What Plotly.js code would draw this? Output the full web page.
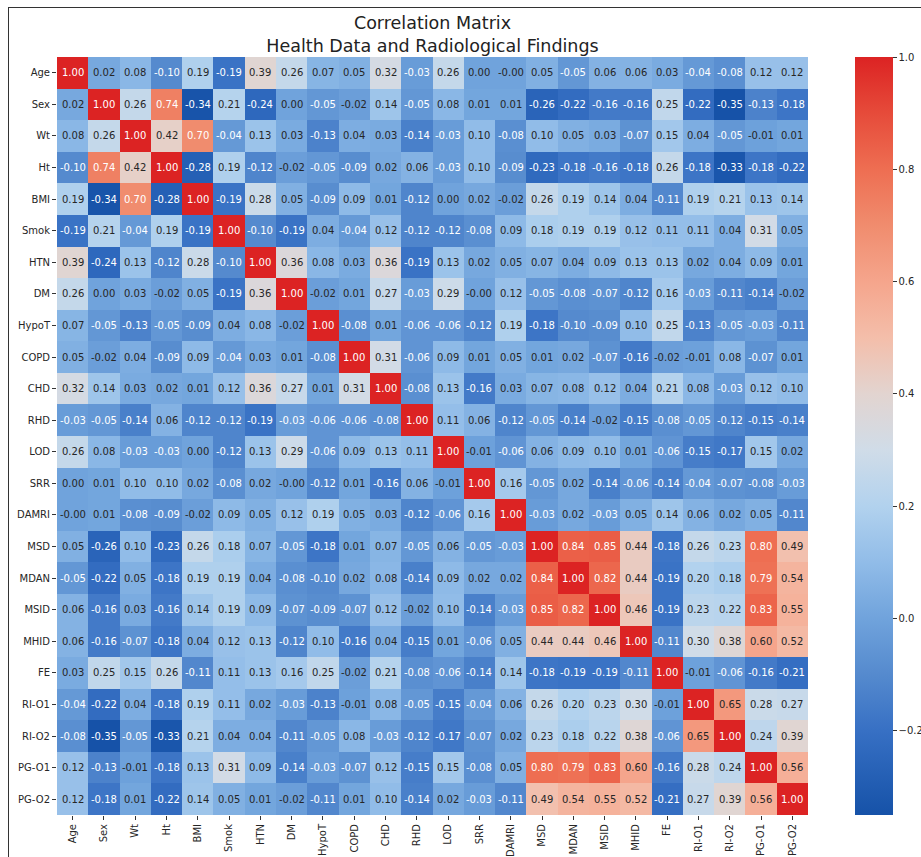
<!DOCTYPE html>
<html>
<head>
<meta charset="utf-8">
<script src="https://cdn.plot.ly/plotly-3.0.1.min.js"></script>
<style>
  html, body { margin: 0; padding: 0; background: #ffffff; }
  #chart { position: absolute; left: 0; top: 0; width: 921px; height: 857px; }
  #frame { position: absolute; left: 8px; top: 7px; width: 913px; height: 850px;
           border-left: 1.5px solid #333; border-top: 1.5px solid #333;
           pointer-events: none; box-sizing: border-box; }
</style>
</head>
<body>
<div id="chart"></div>
<div id="frame"></div>
<script>
// Variable names (rows top-to-bottom, columns left-to-right)
const labels = ["Age","Sex","Wt","Ht","BMI","Smok","HTN","DM","HypoT","COPD","CHD","RHD",
                "LOD","SRR","DAMRI","MSD","MDAN","MSID","MHID","FE","RI-O1","RI-O2","PG-O1","PG-O2"];

// Correlation rows (-0.001 marks cells printed as "-0.00")
const rowAge   = [1.00, 0.02, 0.08,-0.10, 0.19,-0.19, 0.39, 0.26, 0.07, 0.05, 0.32,-0.03, 0.26, 0.00,-0.001, 0.05,-0.05, 0.06, 0.06, 0.03,-0.04,-0.08, 0.12, 0.12];
const rowSex   = [0.02, 1.00, 0.26, 0.74,-0.34, 0.21,-0.24, 0.00,-0.05,-0.02, 0.14,-0.05, 0.08, 0.01, 0.01,-0.26,-0.22,-0.16,-0.16, 0.25,-0.22,-0.35,-0.13,-0.18];
const rowWt    = [0.08, 0.26, 1.00, 0.42, 0.70,-0.04, 0.13, 0.03,-0.13, 0.04, 0.03,-0.14,-0.03, 0.10,-0.08, 0.10, 0.05, 0.03,-0.07, 0.15, 0.04,-0.05,-0.01, 0.01];
const rowHt    = [-0.10, 0.74, 0.42, 1.00,-0.28, 0.19,-0.12,-0.02,-0.05,-0.09, 0.02, 0.06,-0.03, 0.10,-0.09,-0.23,-0.18,-0.16,-0.18, 0.26,-0.18,-0.33,-0.18,-0.22];
const rowBMI   = [0.19,-0.34, 0.70,-0.28, 1.00,-0.19, 0.28, 0.05,-0.09, 0.09, 0.01,-0.12, 0.00, 0.02,-0.02, 0.26, 0.19, 0.14, 0.04,-0.11, 0.19, 0.21, 0.13, 0.14];
const rowSmok  = [-0.19, 0.21,-0.04, 0.19,-0.19, 1.00,-0.10,-0.19, 0.04,-0.04, 0.12,-0.12,-0.12,-0.08, 0.09, 0.18, 0.19, 0.19, 0.12, 0.11, 0.11, 0.04, 0.31, 0.05];
const rowHTN   = [0.39,-0.24, 0.13,-0.12, 0.28,-0.10, 1.00, 0.36, 0.08, 0.03, 0.36,-0.19, 0.13, 0.02, 0.05, 0.07, 0.04, 0.09, 0.13, 0.13, 0.02, 0.04, 0.09, 0.01];
const rowDM    = [0.26, 0.00, 0.03,-0.02, 0.05,-0.19, 0.36, 1.00,-0.02, 0.01, 0.27,-0.03, 0.29,-0.001, 0.12,-0.05,-0.08,-0.07,-0.12, 0.16,-0.03,-0.11,-0.14,-0.02];
const rowHypoT = [0.07,-0.05,-0.13,-0.05,-0.09, 0.04, 0.08,-0.02, 1.00,-0.08, 0.01,-0.06,-0.06,-0.12, 0.19,-0.18,-0.10,-0.09, 0.10, 0.25,-0.13,-0.05,-0.03,-0.11];
const rowCOPD  = [0.05,-0.02, 0.04,-0.09, 0.09,-0.04, 0.03, 0.01,-0.08, 1.00, 0.31,-0.06, 0.09, 0.01, 0.05, 0.01, 0.02,-0.07,-0.16,-0.02,-0.01, 0.08,-0.07, 0.01];
const rowCHD   = [0.32, 0.14, 0.03, 0.02, 0.01, 0.12, 0.36, 0.27, 0.01, 0.31, 1.00,-0.08, 0.13,-0.16, 0.03, 0.07, 0.08, 0.12, 0.04, 0.21, 0.08,-0.03, 0.12, 0.10];
const rowRHD   = [-0.03,-0.05,-0.14, 0.06,-0.12,-0.12,-0.19,-0.03,-0.06,-0.06,-0.08, 1.00, 0.11, 0.06,-0.12,-0.05,-0.14,-0.02,-0.15,-0.08,-0.05,-0.12,-0.15,-0.14];
const rowLOD   = [0.26, 0.08,-0.03,-0.03, 0.00,-0.12, 0.13, 0.29,-0.06, 0.09, 0.13, 0.11, 1.00,-0.01,-0.06, 0.06, 0.09, 0.10, 0.01,-0.06,-0.15,-0.17, 0.15, 0.02];
const rowSRR   = [0.00, 0.01, 0.10, 0.10, 0.02,-0.08, 0.02,-0.001,-0.12, 0.01,-0.16, 0.06,-0.01, 1.00, 0.16,-0.05, 0.02,-0.14,-0.06,-0.14,-0.04,-0.07,-0.08,-0.03];
const rowDAMRI = [-0.001, 0.01,-0.08,-0.09,-0.02, 0.09, 0.05, 0.12, 0.19, 0.05, 0.03,-0.12,-0.06, 0.16, 1.00,-0.03, 0.02,-0.03, 0.05, 0.14, 0.06, 0.02, 0.05,-0.11];
const rowMSD   = [0.05,-0.26, 0.10,-0.23, 0.26, 0.18, 0.07,-0.05,-0.18, 0.01, 0.07,-0.05, 0.06,-0.05,-0.03, 1.00, 0.84, 0.85, 0.44,-0.18, 0.26, 0.23, 0.80, 0.49];
const rowMDAN  = [-0.05,-0.22, 0.05,-0.18, 0.19, 0.19, 0.04,-0.08,-0.10, 0.02, 0.08,-0.14, 0.09, 0.02, 0.02, 0.84, 1.00, 0.82, 0.44,-0.19, 0.20, 0.18, 0.79, 0.54];
const rowMSID  = [0.06,-0.16, 0.03,-0.16, 0.14, 0.19, 0.09,-0.07,-0.09,-0.07, 0.12,-0.02, 0.10,-0.14,-0.03, 0.85, 0.82, 1.00, 0.46,-0.19, 0.23, 0.22, 0.83, 0.55];
const rowMHID  = [0.06,-0.16,-0.07,-0.18, 0.04, 0.12, 0.13,-0.12, 0.10,-0.16, 0.04,-0.15, 0.01,-0.06, 0.05, 0.44, 0.44, 0.46, 1.00,-0.11, 0.30, 0.38, 0.60, 0.52];
const rowFE    = [0.03, 0.25, 0.15, 0.26,-0.11, 0.11, 0.13, 0.16, 0.25,-0.02, 0.21,-0.08,-0.06,-0.14, 0.14,-0.18,-0.19,-0.19,-0.11, 1.00,-0.01,-0.06,-0.16,-0.21];
const rowRIO1  = [-0.04,-0.22, 0.04,-0.18, 0.19, 0.11, 0.02,-0.03,-0.13,-0.01, 0.08,-0.05,-0.15,-0.04, 0.06, 0.26, 0.20, 0.23, 0.30,-0.01, 1.00, 0.65, 0.28, 0.27];
const rowRIO2  = [-0.08,-0.35,-0.05,-0.33, 0.21, 0.04, 0.04,-0.11,-0.05, 0.08,-0.03,-0.12,-0.17,-0.07, 0.02, 0.23, 0.18, 0.22, 0.38,-0.06, 0.65, 1.00, 0.24, 0.39];
const rowPGO1  = [0.12,-0.13,-0.01,-0.18, 0.13, 0.31, 0.09,-0.14,-0.03,-0.07, 0.12,-0.15, 0.15,-0.08, 0.05, 0.80, 0.79, 0.83, 0.60,-0.16, 0.28, 0.24, 1.00, 0.56];
const rowPGO2  = [0.12,-0.18, 0.01,-0.22, 0.14, 0.05, 0.01,-0.02,-0.11, 0.01, 0.10,-0.14, 0.02,-0.03,-0.11, 0.49, 0.54, 0.55, 0.52,-0.21, 0.27, 0.39, 0.56, 1.00];

const z = [rowAge,rowSex,rowWt,rowHt,rowBMI,rowSmok,rowHTN,rowDM,rowHypoT,rowCOPD,rowCHD,rowRHD,
           rowLOD,rowSRR,rowDAMRI,rowMSD,rowMDAN,rowMSID,rowMHID,rowFE,rowRIO1,rowRIO2,rowPGO1,rowPGO2];

const zMin = -0.35, zMax = 1.0;
// colour stops keyed by correlation value
const stopVals = [-0.35, -0.2, -0.1, 0.0, 0.1, 0.2, 0.3, 0.4, 0.5, 0.6, 0.7, 0.8, 0.9, 1.0];
const stopCols = ["rgb(22,82,168)","rgb(55,112,196)","rgb(85,138,206)","rgb(112,163,220)",
                  "rgb(145,188,232)","rgb(178,210,238)","rgb(208,220,232)","rgb(226,212,208)",
                  "rgb(244,190,170)","rgb(245,165,140)","rgb(240,140,110)","rgb(238,110,82)",
                  "rgb(230,75,58)","rgb(220,35,35)"];
const colorscale = stopVals.map((v, i) => [(v - zMin) / (zMax - zMin), stopCols[i]]);

const font = "DejaVu Sans, sans-serif";
const annotations = [];
z.forEach((row, i) => row.forEach((v, j) => {
  const light = (v <= -0.025 || v >= 0.70);
  annotations.push({
    x: labels[j], y: labels[i], xref: "x", yref: "y",
    text: v.toFixed(2), showarrow: false,
    font: { family: font, size: 10, color: light ? "#ffffff" : "#262626" }
  });
}));

const trace = {
  type: "heatmap", z: z, x: labels, y: labels,
  zmin: zMin, zmax: zMax, colorscale: colorscale,
  xgap: 0, ygap: 0, hoverinfo: "skip",
  colorbar: {
    x: 855 / 921, xanchor: "left", xref: "container",
    y: 0.5, yanchor: "middle", len: 1, lenmode: "fraction",
    thickness: 38, thicknessmode: "pixels",
    outlinewidth: 0, xpad: 0, ypad: 0,
    ticks: "outside", ticklen: 4, tickcolor: "#333", tickwidth: 1,
    tick0: 0, dtick: 0.2, tickformat: ".1f",
    tickfont: { family: font, size: 10, color: "#262626" }
  }
};

const axisCommon = {
  type: "category", showgrid: false, zeroline: false, showline: false,
  ticks: "outside", ticklen: 4, tickcolor: "#333", tickwidth: 1,
  tickfont: { family: font, size: 10, color: "#262626" }
};

const layout = {
  width: 921, height: 857,
  margin: { l: 57, r: 113, t: 57, b: 42, pad: 0 },
  paper_bgcolor: "#ffffff", plot_bgcolor: "#ffffff",
  title: {
    text: "Correlation Matrix<br>Health Data and Radiological Findings",
    font: { family: font, size: 17.5, color: "#222" },
    x: 0.5, xref: "paper", xanchor: "center",
    y: 1 - 29 / 857, yref: "container", yanchor: "top"
  },
  xaxis: Object.assign({}, axisCommon, { tickangle: -90, categoryorder: "array", categoryarray: labels }),
  yaxis: Object.assign({}, axisCommon, { autorange: "reversed", categoryorder: "array", categoryarray: labels }),
  annotations: annotations,
  showlegend: false
};

Plotly.newPlot("chart", [trace], layout, { displayModeBar: false, staticPlot: true });
</script>
</body>
</html>
